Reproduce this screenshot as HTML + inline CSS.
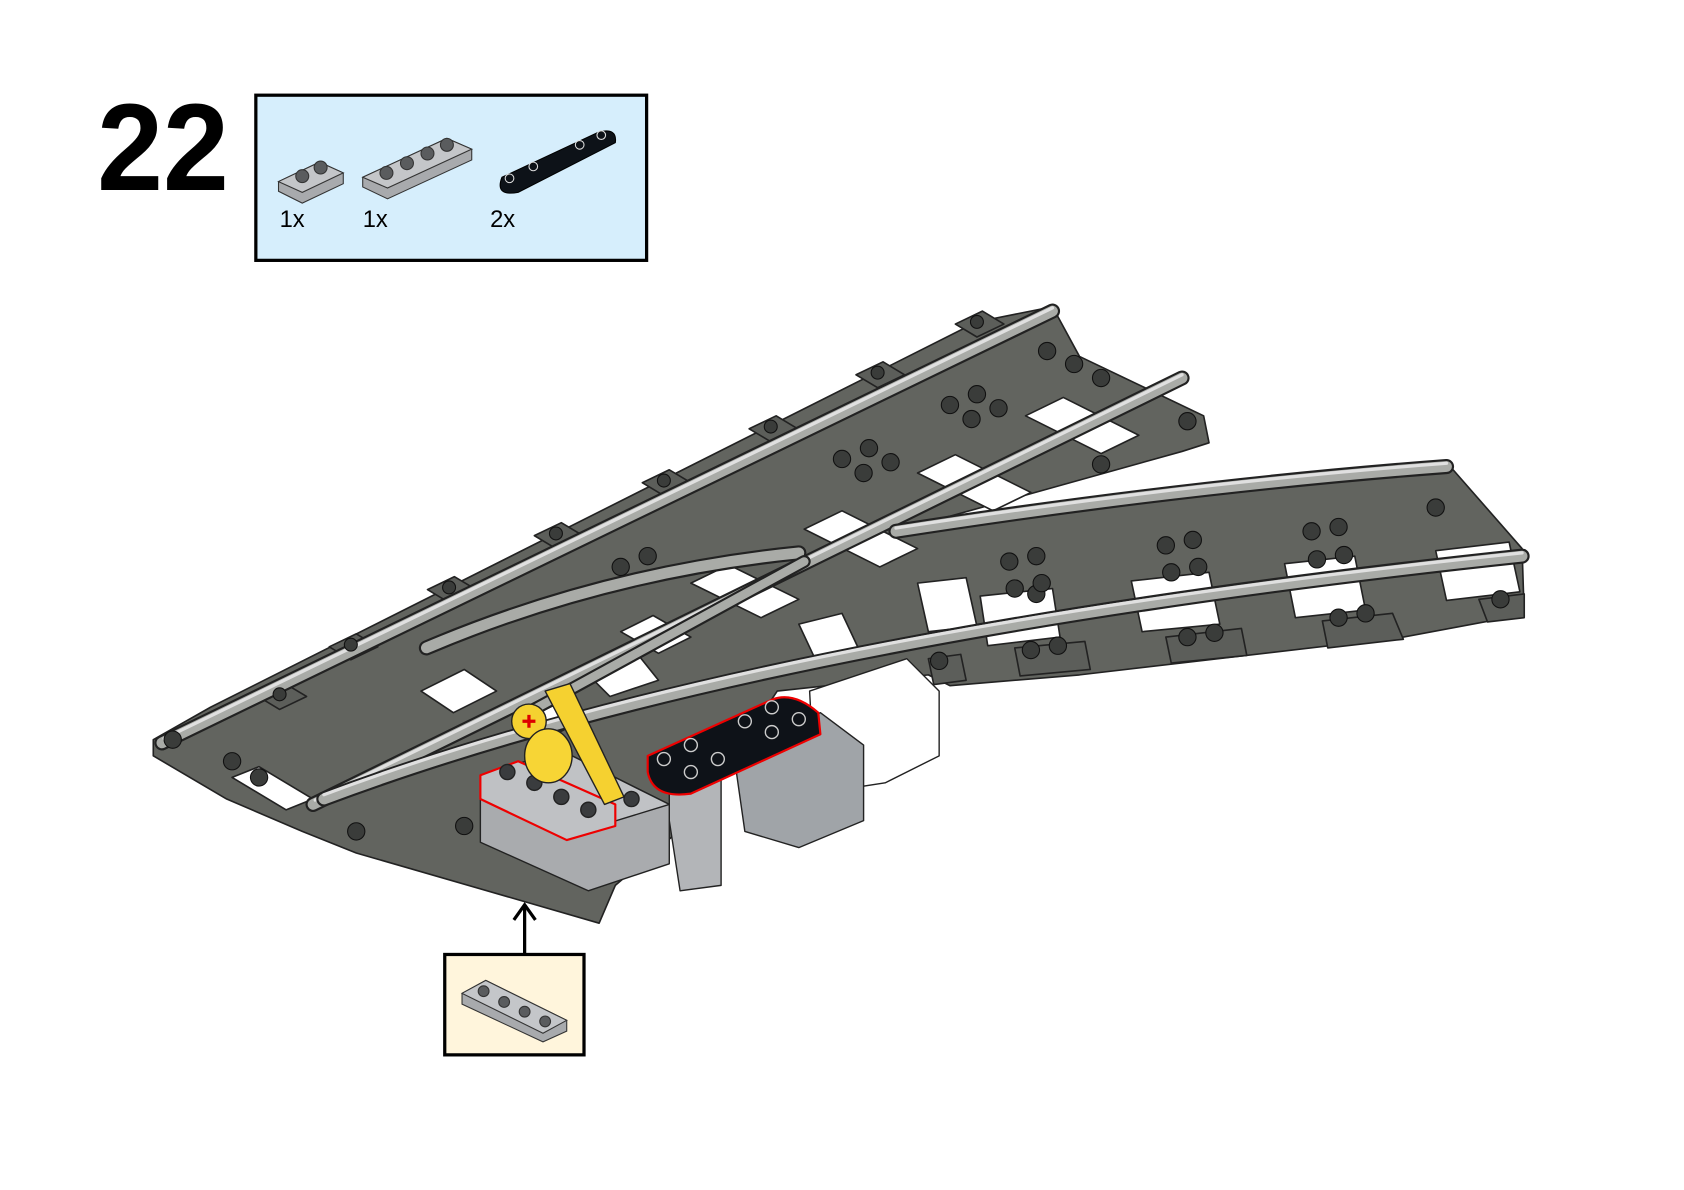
<!DOCTYPE html>
<html><head><meta charset="utf-8"><style>html,body{margin:0;padding:0;background:#fff}svg{display:block}</style></head><body>
<svg width="1684" height="1190" viewBox="0 0 1560 1102" xmlns="http://www.w3.org/2000/svg" font-family="Liberation Sans, sans-serif">
<rect width="1560" height="1102" fill="#fff"/>
<text x="90" y="176" font-size="114" font-weight="bold" textLength="122" lengthAdjust="spacingAndGlyphs">22</text>
<rect x="237" y="88" width="362" height="153" fill="#d6eefc" stroke="#000" stroke-width="3"/>
<g stroke="#333" stroke-width="1">
<polygon points="258,168 296,150 318,160 318,170 280,188 258,177" fill="#a8aaad"/>
<polygon points="258,168 296,150 318,160 280,178" fill="#c4c6c9"/>
<circle cx="280" cy="163" r="6" fill="#5a5c5e"/><circle cx="297" cy="155" r="6" fill="#5a5c5e"/>
<polygon points="336,164 414,128 437,138 437,148 359,184 336,173" fill="#a8aaad"/>
<polygon points="336,164 414,128 437,138 359,174" fill="#c4c6c9"/>
<circle cx="358" cy="160" r="6" fill="#5a5c5e"/><circle cx="377" cy="151" r="6" fill="#5a5c5e"/><circle cx="396" cy="142" r="6" fill="#5a5c5e"/><circle cx="414" cy="134" r="6" fill="#5a5c5e"/>
<path d="M465,164 L555,122 Q572,118 570,132 L480,178 Q458,182 465,164 Z" fill="#0d1218" stroke="#000"/>
<g fill="none" stroke="#ddd"><circle cx="472" cy="165" r="4"/><circle cx="494" cy="154" r="4"/><circle cx="537" cy="134" r="4"/><circle cx="557" cy="125" r="4"/></g>
</g>
<g font-size="22" fill="#000"><text x="259" y="210">1x</text><text x="336" y="210">1x</text><text x="454" y="210">2x</text></g>

<g stroke="#222" stroke-width="1.5" stroke-linejoin="round">
<polygon fill="#62645f" points="142,685 195,655 905,298 975,284 1000,330 1115,385 1120,410 1095,418 830,492 1340,428 1410,508 1412,570 1380,575 1300,590 1000,625 880,635 860,625 720,640 640,760 570,820 555,855 330,790 280,770 210,740 142,700"/>
<g fill="#5c5e5a">
<polygon points="885,300 910,288 930,300 905,312"/>
<polygon points="793,347 818,335 838,347 813,359"/>
<polygon points="694,397 719,385 739,397 714,409"/>
<polygon points="595,447 620,435 640,447 615,459"/>
<polygon points="495,496 520,484 540,496 515,508"/>
<polygon points="396,546 421,534 441,546 416,558"/>
<polygon points="305,599 330,587 350,599 325,611"/>
<polygon points="239,645 264,633 284,645 259,657"/>
<polygon points="1225,575 1290,568 1300,592 1230,600"/>
<polygon points="1080,590 1150,582 1155,607 1085,614"/>
<polygon points="940,600 1005,594 1010,620 945,626"/>
<polygon points="860,610 890,606 895,630 865,634"/>
<polygon points="1370,555 1412,550 1412,572 1378,576"/>
</g>
<g fill="#fff">
<polygon points="950,385 985,368 1055,403 1020,420"/>
<polygon points="850,438 885,421 955,456 920,473"/>
<polygon points="745,490 780,473 850,508 815,525"/>
<polygon points="640,540 675,523 740,555 705,572"/>
<polygon points="575,585 605,570 640,590 610,605"/>
<polygon points="540,620 590,605 610,630 565,645"/>
<polygon points="390,640 430,620 460,640 420,660"/>
<polygon points="488,665 520,650 545,665 510,682"/>
<polygon points="908,552 975,545 982,590 915,598"/>
<polygon points="1048,538 1120,530 1130,578 1058,585"/>
<polygon points="1190,522 1255,515 1265,565 1200,572"/>
<polygon points="1330,510 1398,502 1408,548 1340,556"/>
<polygon points="850,540 895,535 905,580 860,585"/>
<polygon points="740,578 780,568 795,600 755,610"/>
<polygon points="215,720 240,710 290,740 265,750"/>
</g>
<g fill="none" stroke-linecap="round">
<path d="M150,688 L975,288" stroke="#222" stroke-width="14"/><path d="M150,688 L975,288" stroke="#a9aba7" stroke-width="10"/><path d="M152,684 L975,285" stroke="#e0e0e0" stroke-width="3"/>
<path d="M290,745 L1095,350" stroke="#222" stroke-width="14"/><path d="M290,745 L1095,350" stroke="#a9aba7" stroke-width="10"/><path d="M292,741 L1095,347" stroke="#e0e0e0" stroke-width="3"/>
<path d="M395,600 Q560,530 740,512" stroke="#222" stroke-width="14"/><path d="M395,600 Q560,530 740,512" stroke="#a9aba7" stroke-width="10"/>
<path d="M830,492 Q1100,450 1340,432" stroke="#222" stroke-width="14"/><path d="M830,492 Q1100,450 1340,432" stroke="#a9aba7" stroke-width="10"/><path d="M830,489 Q1100,447 1340,429" stroke="#e0e0e0" stroke-width="3"/>
<path d="M300,740 Q700,590 1410,515" stroke="#222" stroke-width="14"/><path d="M300,740 Q700,590 1410,515" stroke="#a9aba7" stroke-width="10"/><path d="M300,736 Q700,586 1410,512" stroke="#e0e0e0" stroke-width="3"/>
<path d="M745,520 L480,665" stroke="#222" stroke-width="12"/><path d="M745,520 L480,665" stroke="#a9aba7" stroke-width="8"/>
</g>
</g>
<g fill="#3a3c3a" stroke="#111" stroke-width="1">
<circle cx="970" cy="325" r="8"/><circle cx="995" cy="337" r="8"/><circle cx="1020" cy="350" r="8"/>
<circle cx="880" cy="375" r="8"/><circle cx="905" cy="365" r="8"/><circle cx="900" cy="388" r="8"/><circle cx="925" cy="378" r="8"/>
<circle cx="780" cy="425" r="8"/><circle cx="805" cy="415" r="8"/><circle cx="800" cy="438" r="8"/><circle cx="825" cy="428" r="8"/>
<circle cx="1100" cy="390" r="8"/><circle cx="1020" cy="430" r="8"/><circle cx="960" cy="550" r="8"/>
<circle cx="935" cy="520" r="8"/><circle cx="960" cy="515" r="8"/><circle cx="940" cy="545" r="8"/><circle cx="965" cy="540" r="8"/>
<circle cx="1080" cy="505" r="8"/><circle cx="1105" cy="500" r="8"/><circle cx="1085" cy="530" r="8"/><circle cx="1110" cy="525" r="8"/>
<circle cx="1215" cy="492" r="8"/><circle cx="1240" cy="488" r="8"/><circle cx="1220" cy="518" r="8"/><circle cx="1245" cy="514" r="8"/>
<circle cx="1330" cy="470" r="8"/><circle cx="1390" cy="555" r="8"/>
<circle cx="1240" cy="572" r="8"/><circle cx="1265" cy="568" r="8"/><circle cx="1100" cy="590" r="8"/><circle cx="1125" cy="586" r="8"/>
<circle cx="955" cy="602" r="8"/><circle cx="980" cy="598" r="8"/><circle cx="870" cy="612" r="8"/>
<circle cx="160" cy="685" r="8"/><circle cx="215" cy="705" r="8"/><circle cx="240" cy="720" r="8"/><circle cx="330" cy="770" r="8"/>
<circle cx="575" cy="525" r="8"/><circle cx="600" cy="515" r="8"/><circle cx="430" cy="765" r="8"/>
<circle cx="905" cy="298" r="6"/><circle cx="813" cy="345" r="6"/><circle cx="714" cy="395" r="6"/><circle cx="615" cy="445" r="6"/><circle cx="515" cy="494" r="6"/><circle cx="416" cy="544" r="6"/><circle cx="325" cy="597" r="6"/><circle cx="259" cy="643" r="6"/>
</g>
<g stroke="#222" stroke-width="1.3" stroke-linejoin="round">
<polygon fill="#fff" points="750,640 840,610 870,640 870,700 820,725 755,735"/>
<polygon fill="#a0a4a8" points="680,700 760,660 800,690 800,760 740,785 690,770"/>
<polygon fill="#b3b5b8" points="620,700 668,690 668,820 630,825 620,760"/>
<polygon fill="#a9abae" points="445,718 520,695 620,745 620,800 545,825 445,780"/>
<polygon fill="#c0c2c5" points="445,718 520,695 620,745 545,768"/>
<polygon fill="#bfc1c4" stroke="#e00" stroke-width="2" points="445,718 480,705 570,745 570,765 525,778 445,740"/>
<g fill="#3a3c3e"><circle cx="470" cy="715" r="7"/><circle cx="495" cy="725" r="7"/><circle cx="520" cy="738" r="7"/><circle cx="545" cy="750" r="7"/><circle cx="585" cy="740" r="7"/></g>
<polygon fill="#f5d130" points="505,640 528,633 578,738 560,745"/>
<circle cx="490" cy="668" r="16" fill="#f5d130"/>
<ellipse cx="508" cy="700" rx="22" ry="25" fill="#f7d535"/>
<path d="M484,668 h12 M490,662 v12" stroke="#d00" stroke-width="3"/>
<path d="M600,700 L715,648 Q735,640 758,660 L760,680 L640,735 Q605,740 600,715 Z" fill="#0e1218" stroke="#e00" stroke-width="2"/>
<g fill="none" stroke="#ccc"><circle cx="615" cy="703" r="6"/><circle cx="640" cy="690" r="6"/><circle cx="690" cy="668" r="6"/><circle cx="715" cy="655" r="6"/><circle cx="640" cy="715" r="6"/><circle cx="665" cy="703" r="6"/><circle cx="715" cy="678" r="6"/><circle cx="740" cy="666" r="6"/></g>
</g>
<line x1="486" y1="884" x2="486" y2="840" stroke="#000" stroke-width="3"/>
<path d="M476,852 L486,838 L496,852" fill="none" stroke="#000" stroke-width="3"/>
<rect x="412" y="884" width="129" height="93" fill="#fff5dc" stroke="#000" stroke-width="3"/>
<g stroke="#333" stroke-width="1">
<polygon points="428,920 450,908 525,945 525,955 503,965 428,930" fill="#a8aaad"/>
<polygon points="428,920 450,908 525,945 503,957" fill="#c4c6c9"/>
<g fill="#5a5c5e"><circle cx="448" cy="918" r="5"/><circle cx="467" cy="928" r="5"/><circle cx="486" cy="937" r="5"/><circle cx="505" cy="946" r="5"/></g>
</g>
</svg>
</body></html>
